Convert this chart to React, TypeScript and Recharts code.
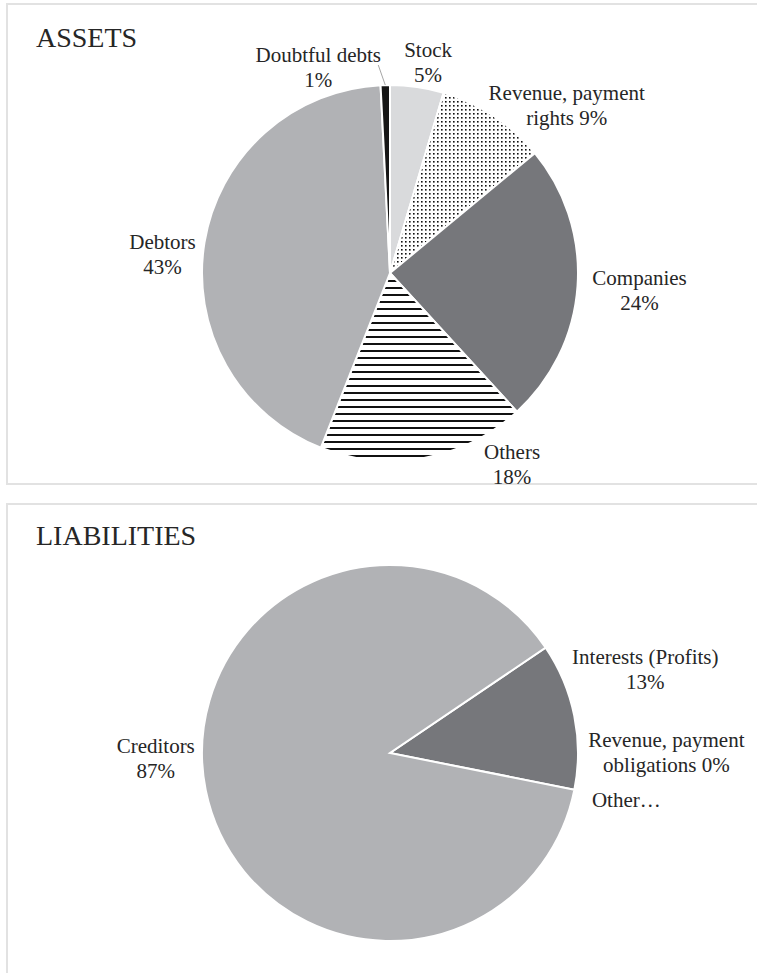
import { Cell, Pie, PieChart } from 'recharts';

const assetNames = ['Stock', 'Revenue, payment rights', 'Companies', 'Others', 'Debtors', 'Doubtful debts'];
const assetValues = [4.6, 9.4, 24.2, 17.8, 43.2, 0.8];

const liabilityNames = ['Interests (Profits)', 'Revenue, payment obligations', 'Other…', 'Creditors'];
const liabilityValues = [12.6, 0, 0, 87.4];

const assetData = assetNames.map((name, i) => ({ name, value: assetValues[i] }));
const liabilityData = liabilityNames.map((name, i) => ({ name, value: liabilityValues[i] }));

const FONT = '"Times New Roman", "Liberation Serif", serif';
const TEXT = '#262626';

const fills: Record<string, string> = {
  Stock: '#d9dadc',
  'Revenue, payment rights': 'url(#dots)',
  Companies: '#76777b',
  Others: 'url(#hlines)',
  Debtors: '#b1b2b5',
  'Doubtful debts': '#161616',
  'Interests (Profits)': '#76777b',
  'Revenue, payment obligations': '#76777b',
  'Other…': '#b1b2b5',
  Creditors: '#b1b2b5',
};

type LabelCfg = { dx: number; dy: number; firstLine?: number; noPct?: boolean; leader?: boolean };

// offsets from the slice's outer edge point (at midAngle) to the label's first baseline
const assetLabels: Record<string, LabelCfg> = {
  Stock: { dx: 11, dy: -30 },
  'Revenue, payment rights': { dx: 73, dy: -16, firstLine: 2 },
  Companies: { dx: 62, dy: -1 },
  Others: { dx: 88, dy: 1 },
  Debtors: { dx: -42, dy: 7 },
  'Doubtful debts': { dx: -67, dy: -23, leader: true },
};

const liabilityLabels: Record<string, LabelCfg> = {
  'Interests (Profits)': { dx: 71, dy: -52 },
  'Revenue, payment obligations': { dx: 92, dy: -43, firstLine: 2 },
  'Other…': { dx: 52, dy: 17, noPct: true },
  Creditors: { dx: -50, dy: -37 },
};

function makeLabel(layout: Record<string, LabelCfg>) {
  return (props: any) => {
    const name = props.payload?.name ?? props.name;
    const cfg = layout[name];
    if (!cfg) return null;
    const rad = Math.PI / 180;
    const ex = props.cx + props.outerRadius * Math.cos(-props.midAngle * rad);
    const ey = props.cy + props.outerRadius * Math.sin(-props.midAngle * rad);
    const pct = `${Math.round(props.percent * 100)}%`;
    let lines: string[];
    if (cfg.noPct) lines = [name];
    else if (cfg.firstLine) {
      const words = `${name} ${pct}`.split(' ');
      lines = [words.slice(0, cfg.firstLine).join(' '), words.slice(cfg.firstLine).join(' ')];
    } else lines = [name, pct];
    const x = ex + cfg.dx;
    const y = ey + cfg.dy;
    return (
      <g>
        {cfg.leader && (
          <line x1={ex} y1={ey} x2={ex - 7} y2={ey - 20} stroke="#a6a6a6" strokeWidth={1} />
        )}
        <text x={x} y={y} textAnchor="middle" fontFamily={FONT} fontSize={21} fill={TEXT}>
          {lines.map((l, i) => (
            <tspan key={i} x={x} dy={i === 0 ? 0 : 25}>
              {l}
            </tspan>
          ))}
        </text>
      </g>
    );
  };
}

const boxStyle = {
  position: 'absolute' as const,
  left: 6,
  width: 800,
  border: '2px solid #e2e2e2',
  boxSizing: 'border-box' as const,
};

const titleStyle = {
  position: 'absolute' as const,
  left: 36,
  fontFamily: FONT,
  fontSize: 28,
  lineHeight: '28px',
  color: TEXT,
};

export default function App() {
  return (
    <div
      style={{
        position: 'absolute',
        left: 0,
        top: 0,
        width: 757,
        height: 973,
        overflow: 'hidden',
        background: '#fff',
      }}
    >
      <div style={{ ...boxStyle, top: 3, height: 482 }} />
      <div style={{ ...boxStyle, top: 503, height: 600 }} />
      <div style={{ ...titleStyle, top: 24 }}>ASSETS</div>
      <div style={{ ...titleStyle, top: 522 }}>LIABILITIES</div>

      <div style={{ position: 'absolute', left: 0, top: 0 }}>
        <PieChart width={757} height={490}>
          <defs>
            <pattern id="dots" width="4" height="4" patternUnits="userSpaceOnUse">
              <rect width="4" height="4" fill="#fff" />
              <rect x="1" y="1" width="1.6" height="1.6" fill="#111" />
            </pattern>
            <pattern id="hlines" width="8" height="7" patternUnits="userSpaceOnUse">
              <rect width="8" height="7" fill="#fff" />
              <rect y="0" width="8" height="2" fill="#111" />
            </pattern>
          </defs>
          <Pie
            data={assetData}
            dataKey="value"
            nameKey="name"
            cx={385}
            cy={268}
            outerRadius={188}
            startAngle={90}
            endAngle={-270}
            stroke="#fff"
            strokeWidth={2}
            labelLine={false}
            label={makeLabel(assetLabels)}
            isAnimationActive={false}
          >
            {assetData.map((d) => (
              <Cell key={d.name} fill={fills[d.name]} />
            ))}
          </Pie>
        </PieChart>
      </div>

      <div style={{ position: 'absolute', left: 0, top: 490 }}>
        <PieChart width={757} height={483}>
          <Pie
            data={liabilityData}
            dataKey="value"
            nameKey="name"
            cx={385}
            cy={258}
            outerRadius={188}
            startAngle={34.1}
            endAngle={-325.9}
            stroke="#fff"
            strokeWidth={2}
            labelLine={false}
            label={makeLabel(liabilityLabels)}
            isAnimationActive={false}
          >
            {liabilityData.map((d) => (
              <Cell key={d.name} fill={fills[d.name]} />
            ))}
          </Pie>
        </PieChart>
      </div>
    </div>
  );
}
